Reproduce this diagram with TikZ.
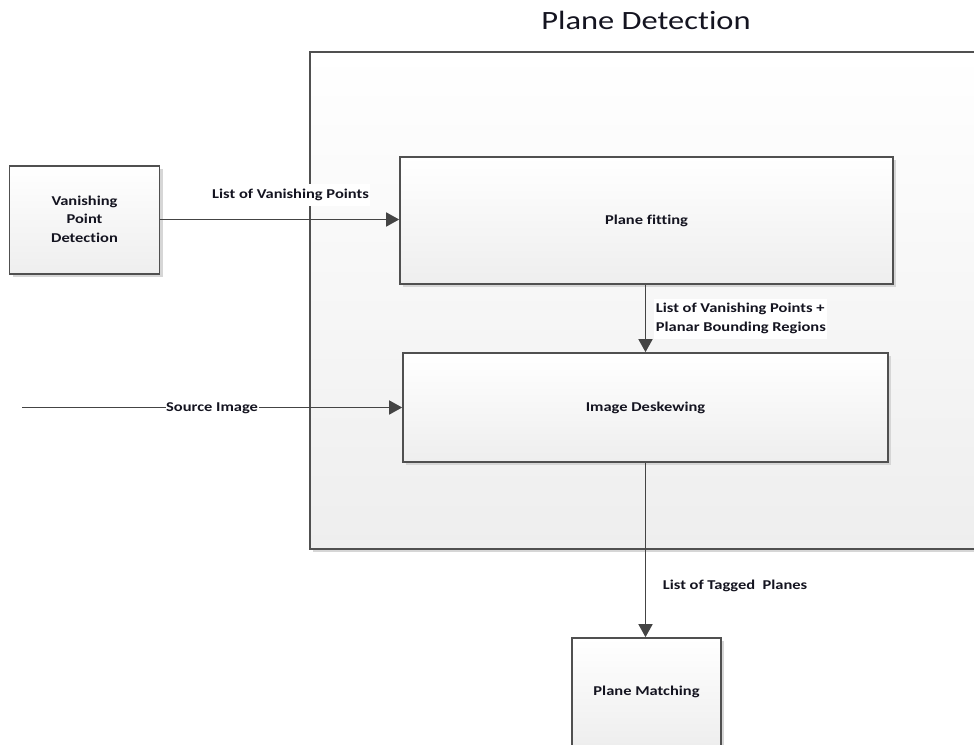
\documentclass[tikz,border=0pt]{standalone}
\usepackage{fontspec}
\setmainfont{Carlito}[Ligatures={NoCommon}]
\usetikzlibrary{arrows.meta,shadows}
\definecolor{edge}{HTML}{505050}
\definecolor{wire}{HTML}{444444}
\definecolor{boxbot}{HTML}{EEEEEE}
\definecolor{shade}{HTML}{D6D6D6}
\definecolor{ink}{HTML}{141420}
\newcommand{\lblfont}{\fontsize{13.5}{18.5}\selectfont\bfseries}
% wide-set text, optionally over several lines
\newcommand{\widetext}[2][c]{\scalebox{1.22}[1]{\begin{tabular}{@{}#1@{}}#2\end{tabular}}}
\tikzset{
  blk/.style={draw=edge, line width=1.7pt, top color=white, bottom color=boxbot,
    text=ink, font=\lblfont, inner sep=0pt,
    drop shadow={shadow xshift=3pt, shadow yshift=-3pt, fill=shade, opacity=1}},
  wirearrow/.style={draw=wire, line width=1.7pt, -{Triangle[length=13pt,width=14pt]}},
  tag/.style={fill=white, text=ink, font=\lblfont, inner sep=1.5pt}
}
\begin{document}
\begin{tikzpicture}[x=1pt,y=-1pt]
\useasboundingbox (0,0) rectangle (974,744);
\fill[white] (0,0) rectangle (974,744);

% container for the plane detection stage
\node[blk, minimum width=680pt, minimum height=497pt] (pd) at (650,300.5) {};
\node[text=ink, font=\fontsize{26.4}{30}\selectfont] (title) at (646,20)
  {\scalebox{1.23}[1]{Plane Detection}};

% processing blocks
\node[blk, minimum width=150pt, minimum height=108pt] (vpd) at (84.5,220)
  {\widetext{Vanishing\\Point\\Detection}};
\node[blk, minimum width=493pt, minimum height=127pt] (fit) at (646.5,220.5)
  {\widetext{Plane fitting}};
\node[blk, minimum width=485pt, minimum height=109pt] (desk) at (645.5,407.5)
  {\widetext{Image Deskewing}};
\node[blk, minimum width=149pt, minimum height=108pt] (pm) at (646.5,692)
  {\widetext{Plane Matching}};

\coordinate (src) at (22,407.5);

% data flow
\draw[wirearrow] (vpd.east |- 0,219.5) -- (fit.west |- 0,219.5)
  node[tag, pos=0.545, above=13pt] {\widetext{List of Vanishing Points}};
\draw[wirearrow] (645.5,0 |- fit.south) -- (645.5,0 |- desk.north)
  node[tag, pos=0.5, right=8pt] {\widetext[l]{List of Vanishing Points +\\Planar Bounding Regions}};
\draw[wirearrow] (src) -- (desk.west)
  node[tag, pos=0.5, inner sep=0.5pt] {\widetext{Source Image}};
\draw[wirearrow] (645.5,0 |- desk.south) -- (645.5,0 |- pm.north)
  node[tag, pos=0.705, right=15pt] {\widetext{List of Tagged\ \ Planes}};
\end{tikzpicture}
\end{document}
